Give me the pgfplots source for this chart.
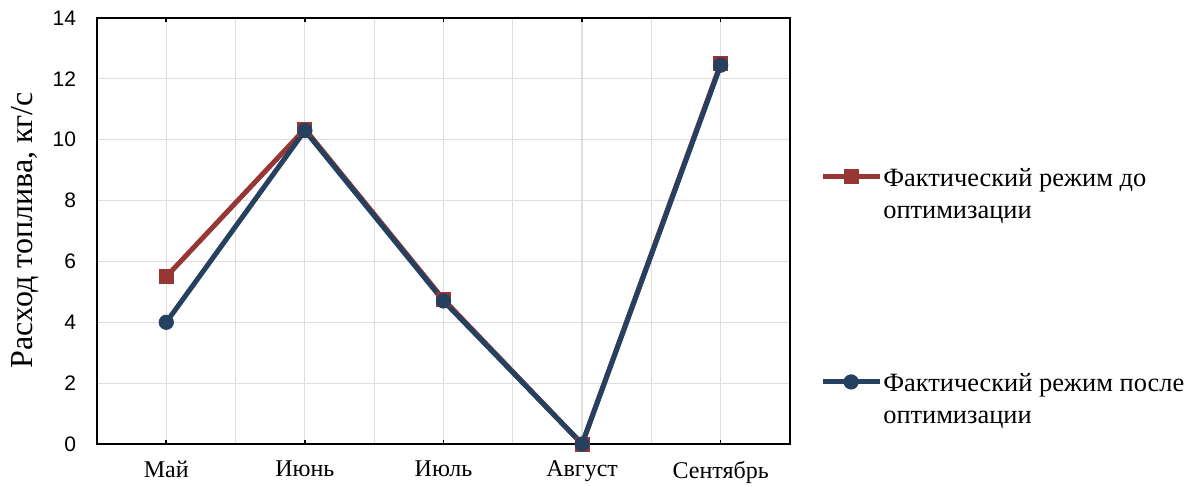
\documentclass[border=0pt]{standalone}
\usepackage{pgfplots}
\pgfplotsset{compat=1.18}
\usepackage{fontspec}
\setmainfont{Liberation Serif}
\newfontfamily\arial{Liberation Sans}
\definecolor{cred}{RGB}{150,55,53}
\definecolor{cblue}{RGB}{38,64,96}
\definecolor{cgrid}{RGB}{222,222,222}
\pgfplotsset{
  legend image code/.code={\draw[mark repeat=2,mark phase=2,#1] plot coordinates {(0cm,0cm)(0.5cm,0cm)(1cm,0cm)};}
}
\begin{document}
\begin{tikzpicture}
\path[use as bounding box] (-48.5pt,-21pt) rectangle (546pt,222pt);
\begin{axis}[
  at={(0,0)}, anchor=south west,
  scale only axis, width=346.5pt, height=213pt,
  xmin=-0.5, xmax=4.5, ymin=0, ymax=14,
  clip=false,
  xtick={0,...,4},
  xticklabels={Май,Июнь,Июль,Август,Сентябрь},
  minor xtick={-0.5,0.5,...,4.5},
  ytick={0,2,...,14},
  xmajorgrids, xminorgrids, ymajorgrids,
  grid style={cgrid, line width=0.6pt},
  minor grid style={cgrid, line width=0.6pt},
  axis line style={black, line width=0.9pt},
  tick align=inside,
  major tick length=2pt, minor tick length=0pt,
  ytick style={draw=none},
  xtick style={black, line width=0.8pt},
  /pgf/number format/assume math mode=true,
  xticklabel style={font=\fontsize{12}{14}\selectfont, yshift=-5pt},
  yticklabel style={font=\arial\fontsize{10.5}{12}\selectfont, xshift=-7pt},
  ylabel={Расход топлива, кг/с},
  ylabel style={font=\fontsize{16}{19}\selectfont, at={(axis description cs:-0.104,0.502)}, anchor=center},
  legend style={draw=none, fill=none, at={(axis description cs:1.043,0.668)}, anchor=north west,
    font=\fontsize{13.2}{16}\selectfont, row sep=86pt, inner sep=0pt,
    nodes={inner xsep=0.6pt}},
  legend cell align=left,
]
\addplot[cred, line width=2.5pt, mark=square*, mark size=3.5pt, mark options={line width=0.4pt}]
  coordinates {(0,5.5)(1,10.35)(2,4.75)(3,0)(4,12.5)};
\addlegendentry{\begin{tabular}[t]{@{}l@{}}Фактический режим до\\оптимизации\end{tabular}}
\addplot[cblue, line width=2.5pt, mark=*, mark size=3.6pt, mark options={line width=0.4pt}]
  coordinates {(0,4)(1,10.3)(2,4.7)(3,0)(4,12.45)};
\addlegendentry{\begin{tabular}[t]{@{}l@{}}Фактический режим после\\оптимизации\end{tabular}}
\end{axis}
\end{tikzpicture}
\end{document}
